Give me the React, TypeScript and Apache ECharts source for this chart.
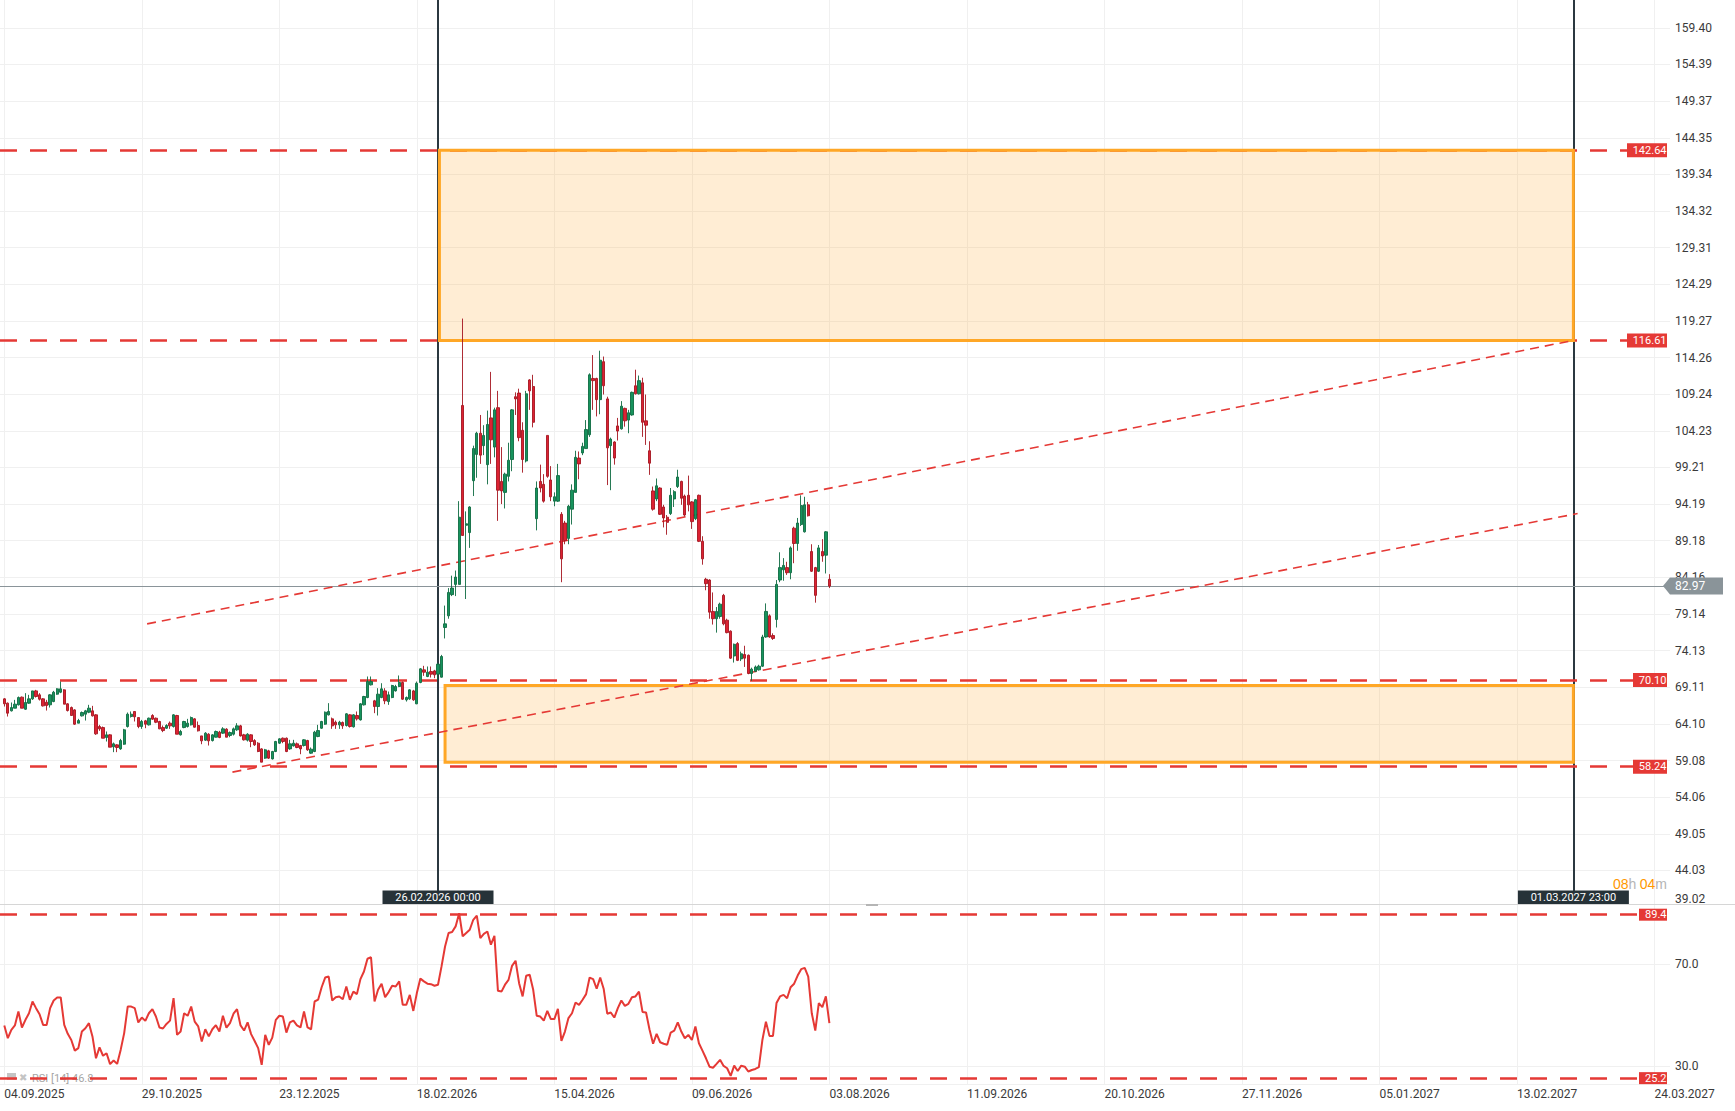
import React, { useEffect, useRef } from "react";
import * as echarts from "echarts";

// ---------- data ----------
const dateTicks = [0, 39, 78, 117, 156, 195, 234, 273, 312, 351, 390, 429, 468];
const dateLabels = [
  "04.09.2025", "29.10.2025", "23.12.2025", "18.02.2026", "15.04.2026", "09.06.2026",
  "03.08.2026", "11.09.2026", "20.10.2026", "27.11.2026", "05.01.2027", "13.02.2027", "24.03.2027",
];
const priceTicks = [
  159.40, 154.39, 149.37, 144.35, 139.34, 134.32, 129.31, 124.29, 119.27, 114.26, 109.24, 104.23,
  99.21, 94.19, 89.18, 84.16, 79.14, 74.13, 69.11, 64.10, 59.08, 54.06, 49.05, 44.03, 39.02,
];
const rsiTicks = [30, 70];

const opens = [
  67.53, 66.94, 65.89, 66.25, 66.71, 67.76, 66.11, 66.94, 67.53, 68.62,
  68.08, 67.53, 67.07, 66.71, 67.16, 68.17, 68.44, 68.76, 66.85, 66.34,
  66.02, 64.20, 65.20, 65.43, 65.70, 65.89, 65.34, 63.74, 63.60, 62.24,
  62.60, 60.96, 61.23, 60.68, 61.32, 63.74, 65.11, 65.80, 64.97, 63.74,
  64.52, 63.97, 65.25, 64.88, 64.43, 63.60, 63.51, 64.20, 63.74, 65.25,
  62.60, 63.60, 63.74, 63.97, 64.79, 63.88, 62.46, 61.87, 62.69, 61.82,
  62.28, 62.97, 62.83, 63.38, 62.51, 62.69, 63.29, 63.83, 62.60, 61.87,
  62.60, 61.82, 61.46, 60.68, 59.41, 60.41, 59.31, 60.32, 61.46, 62.14,
  62.14, 60.68, 61.09, 61.37, 61.14, 61.14, 61.82, 60.09, 60.32, 62.37,
  63.51, 64.06, 65.34, 64.79, 64.33, 63.97, 64.29, 63.88, 65.34, 63.70,
  65.25, 64.65, 66.71, 67.71, 69.45, 67.26, 66.48, 67.71, 68.62, 67.16,
  67.71, 68.62, 69.22, 69.77, 67.39, 67.53, 68.62, 66.85, 69.77, 71.50,
  70.59, 71.27, 71.36, 70.91, 70.50,
  77.3, 78.9, 81.8, 83.2, 83.2,
  107.7, 91.3, 90.3, 97.4, 101.0, 103.9, 102.2, 99.6, 106.0, 102.0,
  107.4, 97.3, 95.8, 98.0, 100.3, 108.9, 109.4, 104.3, 100.1, 111.2,
  110.3, 92.2, 97.3, 96.9, 103.6, 97.5, 94.6, 94.6, 92.8, 91.6,
  89.5, 93.5, 95.8, 100.5, 101.2, 101.8, 103.7, 111.4, 111.4, 108.5,
  113.7, 108.6, 102.2, 102.7, 104.9, 104.5, 107.3, 105.7, 106.4, 110.4,
  109.3, 110.8, 105.6, 101.5, 96.0, 94.9, 96.4, 93.8, 92.4, 92.9,
  94.9, 96.6, 97.3, 95.3, 95.4, 94.5, 92.2, 95.4, 89.1, 83.9,
  83.8, 79.5, 78.5, 78.8, 81.7, 78.3, 76.8, 73.4, 75.1, 73.0,
  73.6, 73.5, 71.0, 71.3, 71.5, 72.0, 76.0, 78.9, 76.2, 78.4,
  83.8, 85.2, 85.5, 84.8, 90.9, 88.8, 91.4, 90.4, 94.1, 87.7,
  85.5, 85.0, 87.7, 87.2, 83.9,
];
const closes = [
  66.85, 65.57, 66.34, 66.80, 67.71, 66.25, 67.03, 67.53, 68.62, 67.85,
  67.48, 66.57, 66.62, 68.08, 68.44, 68.90, 68.90, 66.80, 65.93, 65.25,
  64.06, 64.56, 65.66, 65.89, 66.25, 65.20, 62.74, 63.42, 62.14, 62.60,
  60.91, 61.37, 60.87, 61.82, 63.29, 65.43, 65.43, 65.07, 63.74, 64.43,
  64.06, 64.88, 64.75, 64.33, 63.42, 63.19, 63.88, 63.83, 65.34, 62.69,
  63.06, 64.43, 64.20, 64.97, 63.65, 63.15, 61.78, 62.83, 61.78, 62.60,
  63.06, 62.24, 63.42, 62.28, 62.92, 63.42, 63.83, 62.46, 61.92, 62.69,
  61.69, 61.23, 60.32, 58.86, 60.55, 59.41, 60.32, 61.69, 62.05, 61.69,
  60.32, 61.37, 61.46, 60.87, 60.68, 61.92, 60.55, 60.64, 62.97, 63.19,
  64.43, 65.70, 65.80, 63.83, 63.97, 64.33, 63.83, 65.48, 63.74, 65.34,
  64.79, 66.85, 67.85, 69.90, 69.90, 66.48, 68.17, 68.90, 67.26, 68.08,
  69.36, 69.22, 69.77, 67.48, 67.71, 68.76, 67.39, 69.67, 71.64, 71.18,
  71.18, 70.91, 70.82, 72.28, 73.33,
  77.8, 82.1, 82.7, 84.2, 92.4,
  89.9, 91.5, 93.8, 101.8, 103.9, 100.9, 103.6, 105.1, 103.0, 107.1,
  96.1, 96.0, 98.3, 100.2, 107.1, 108.6, 103.3, 100.3, 109.3, 109.7,
  105.4, 96.4, 96.4, 94.6, 98.0, 95.2, 95.2, 98.1, 86.7, 89.2,
  93.9, 96.1, 100.6, 99.7, 102.1, 104.4, 111.9, 111.1, 108.5, 113.9,
  110.4, 101.9, 103.1, 100.5, 104.2, 107.6, 105.6, 106.7, 109.5, 109.3,
  111.1, 105.4, 105.0, 99.8, 93.5, 96.7, 92.8, 92.3, 91.7, 95.4,
  95.9, 97.9, 95.0, 92.7, 94.1, 91.8, 94.8, 89.1, 86.7, 83.3,
  79.4, 78.5, 79.5, 80.5, 77.8, 76.6, 73.1, 75.0, 72.8, 73.7,
  73.1, 71.0, 71.6, 71.9, 72.0, 76.0, 79.5, 76.0, 75.8, 83.2,
  85.5, 85.8, 84.8, 88.2, 88.8, 91.6, 94.0, 94.1, 92.6, 85.0,
  81.7, 88.2, 87.1, 90.4, 82.97,
];
const highs = [
  67.62, 67.03, 67.03, 67.39, 67.85, 67.85, 68.31, 68.08, 68.62, 68.76,
  68.31, 67.62, 67.39, 68.17, 68.62, 68.99, 69.90, 68.85, 66.94, 66.48,
  66.11, 64.79, 65.80, 66.02, 66.71, 66.57, 65.43, 63.97, 63.74, 63.06,
  62.69, 61.55, 61.32, 62.05, 63.42, 65.66, 65.80, 65.80, 64.97, 64.65,
  64.65, 64.97, 65.43, 64.97, 64.52, 63.88, 64.06, 64.43, 65.43, 65.34,
  63.29, 64.52, 64.79, 65.11, 64.88, 64.43, 62.46, 62.97, 62.83, 62.69,
  63.19, 63.15, 63.65, 63.51, 63.06, 63.60, 64.20, 63.97, 62.74, 62.83,
  62.69, 62.01, 61.60, 60.77, 60.68, 60.55, 60.41, 61.78, 62.14, 62.24,
  62.24, 61.92, 61.92, 61.55, 61.23, 62.01, 61.92, 60.87, 63.15, 63.97,
  64.52, 65.80, 66.94, 64.97, 64.56, 64.52, 64.43, 65.57, 65.43, 65.43,
  65.80, 66.94, 67.94, 70.59, 70.59, 67.39, 68.99, 69.67, 68.99, 68.53,
  69.45, 69.45, 70.73, 69.90, 67.85, 68.85, 68.76, 69.90, 71.73, 72.05,
  71.96, 71.96, 71.50, 72.41, 73.55,
  80.3, 82.7, 84.4, 85.1, 94.6,
  119.6, 93.2, 93.9, 102.2, 104.1, 106.4, 105.0, 107.0, 112.3, 107.4,
  109.7, 102.0, 98.5, 102.6, 107.2, 109.5, 110.0, 105.4, 109.7, 111.3,
  111.9, 97.3, 99.6, 98.3, 103.6, 99.4, 95.8, 99.7, 93.1, 91.9,
  94.1, 96.9, 101.5, 101.4, 102.6, 105.7, 112.1, 114.6, 111.5, 115.2,
  114.4, 108.9, 103.3, 102.8, 106.0, 108.3, 107.4, 107.1, 109.6, 112.6,
  111.8, 111.5, 109.2, 102.8, 96.6, 97.7, 96.5, 94.1, 92.7, 96.4,
  96.1, 98.9, 97.4, 95.5, 98.1, 94.6, 94.9, 95.5, 89.8, 84.1,
  83.9, 82.1, 80.1, 80.7, 81.9, 78.5, 76.9, 75.1, 75.3, 74.0,
  74.8, 73.6, 71.8, 72.1, 72.2, 76.3, 80.6, 79.1, 76.5, 83.8,
  87.6, 86.8, 86.3, 88.4, 91.1, 92.3, 95.4, 95.2, 94.5, 88.7,
  85.6, 88.6, 89.4, 90.5, 84.6,
];
const lows = [
  66.48, 65.11, 65.80, 66.25, 66.62, 66.25, 66.02, 66.85, 67.39, 67.71,
  67.30, 66.48, 65.93, 66.34, 67.07, 68.08, 68.31, 66.80, 65.80, 65.25,
  63.97, 64.20, 65.11, 64.56, 65.57, 65.11, 62.60, 63.15, 62.14, 61.69,
  60.91, 60.23, 60.23, 60.55, 61.23, 63.60, 64.97, 64.43, 63.51, 63.42,
  63.51, 63.88, 64.65, 64.20, 63.38, 62.97, 63.42, 63.42, 63.60, 62.69,
  62.51, 63.51, 63.60, 63.88, 63.60, 63.06, 61.32, 61.78, 61.14, 61.69,
  62.24, 62.14, 62.74, 62.28, 62.28, 62.51, 63.15, 62.37, 61.82, 61.69,
  60.91, 61.09, 60.23, 58.86, 59.31, 59.31, 59.22, 60.23, 61.37, 61.46,
  60.23, 60.55, 61.00, 60.77, 59.95, 61.00, 60.41, 60.00, 60.23, 62.28,
  63.42, 63.97, 65.25, 63.42, 63.42, 63.42, 63.42, 63.74, 63.60, 63.60,
  64.56, 64.56, 66.62, 67.62, 69.36, 65.57, 65.25, 67.62, 66.80, 66.71,
  67.62, 68.53, 69.13, 67.39, 67.16, 67.39, 67.26, 66.80, 69.67, 70.68,
  70.50, 70.45, 70.36, 70.13, 70.45,
  75.8, 78.5, 81.6, 81.6, 83.2,
  89.9, 81.2, 88.2, 95.3, 97.8, 99.7, 100.9, 96.9, 99.7, 100.6,
  91.9, 94.2, 93.6, 97.3, 98.7, 106.4, 102.8, 98.5, 99.9, 107.1,
  104.7, 90.6, 95.8, 94.4, 97.8, 94.6, 93.9, 94.5, 83.5, 88.7,
  88.7, 91.4, 95.8, 97.6, 100.9, 101.8, 103.4, 107.1, 106.2, 106.5,
  109.2, 96.8, 96.1, 99.6, 102.9, 104.4, 104.8, 103.9, 106.3, 109.2,
  109.2, 103.4, 102.3, 98.2, 93.3, 94.6, 92.7, 91.0, 90.0, 92.7,
  93.8, 96.4, 94.1, 92.5, 93.2, 90.8, 92.0, 89.0, 85.9, 82.4,
  78.5, 77.7, 76.6, 78.5, 77.6, 76.5, 73.0, 72.5, 72.7, 72.7,
  71.9, 70.9, 70.0, 71.2, 71.4, 71.9, 75.9, 75.9, 75.6, 77.3,
  83.5, 83.7, 84.5, 83.9, 86.1, 87.8, 91.2, 90.3, 92.5, 84.9,
  80.7, 84.9, 86.3, 84.7, 82.7,
];
const rsiValues = [
  45.9, 40.9, 44.2, 45.9, 51.4, 45.1, 48.1, 50.7, 55.3, 52.7,
  50.3, 46.1, 46.1, 52.7, 55.7, 56.9, 56.9, 46.1, 42.6, 40.2,
  36.0, 37.0, 43.5, 44.8, 46.8, 41.6, 33.0, 37.3, 34.0, 35.0,
  30.7, 32.1, 30.8, 36.3, 42.9, 53.3, 53.3, 52.7, 47.1, 49.0,
  47.7, 50.7, 52.3, 49.4, 45.1, 44.7, 46.5, 47.8, 56.6, 42.2,
  43.5, 50.7, 49.7, 53.3, 47.4, 45.5, 39.6, 44.4, 41.6, 44.4,
  46.0, 43.5, 49.7, 45.0, 46.8, 50.5, 52.3, 45.9, 43.9, 47.1,
  42.5, 39.8, 37.0, 30.4, 42.2, 38.3, 41.1, 48.1, 49.7, 49.4,
  43.1, 47.1, 47.8, 45.9, 45.1, 51.4, 45.1, 44.4, 55.3, 56.0,
  60.9, 64.7, 65.1, 55.7, 57.0, 57.3, 56.2, 61.2, 56.0, 59.2,
  58.2, 64.1, 67.1, 72.1, 72.7, 55.3, 59.9, 62.3, 57.0, 59.0,
  61.5, 61.2, 63.2, 54.0, 54.0, 57.9, 51.6, 58.6, 64.3, 63.2,
  62.3, 62.1, 61.5, 61.9, 69.1, 76.9, 82.2, 82.6, 84.8, 90.0,
  80.9, 82.2, 83.5, 87.4, 89.0, 80.2, 81.9, 82.8, 77.6, 81.1,
  59.5, 59.2, 61.9, 63.8, 69.3, 71.3, 62.5, 57.3, 65.4, 65.8,
  59.9, 49.7, 49.4, 47.8, 51.6, 48.4, 48.4, 52.4, 39.8, 43.5,
  48.8, 50.7, 54.9, 54.0, 56.0, 58.2, 64.7, 64.1, 60.3, 64.7,
  60.2, 50.5, 51.0, 49.0, 52.7, 55.7, 53.6, 54.4, 57.0, 57.3,
  59.2, 51.2, 51.0, 44.2, 38.7, 42.6, 39.3, 38.7, 38.3, 43.1,
  43.9, 47.1, 43.5, 40.9, 42.2, 40.2, 45.5, 38.9, 36.0, 33.0,
  29.7, 29.3, 30.8, 32.4, 30.0, 29.1, 26.1, 30.1, 28.0, 30.1,
  29.7, 27.8, 28.4, 28.8, 29.5, 40.2, 47.4, 41.8, 41.8, 54.7,
  57.3, 57.9, 56.6, 60.9, 62.3, 65.5, 68.0, 68.5, 65.1, 50.7,
  43.9, 54.7, 53.1, 57.3, 46.8,
];

const levelLines = [142.64, 116.61, 70.10, 58.24];
const rsiLevels = [89.4, 25.2];
const lastPrice = 82.97;
const markerBars = [123, 445];
const markerLabels = ["26.02.2026 00:00", "01.03.2027 23:00"];
const upperTrend = [[40.5, 77.8], [445, 116.61]];
const lowerTrend = [[64.7, 57.5], [446.2, 92.9]];
const upperZone = [[123.4, 142.64], [445, 116.61]];
const lowerZone = [[125, 69.35], [445, 58.84]];
const rsiName = "RSI [14] 46.8";
const countdown = ["08", "04"];

// ---------- layout / style ----------
const W = 1735;
const H = 1111;
const GRID_W = 1670;
const MAIN_H = 904;
const RSI_TOP = 904;
const RSI_H = 180;
const X_MIN = -1.22;
const X_MAX = 472.4;
const Y_MIN = 39.44;
const Y_MAX = 163.22;
const R_MIN = 22.9;
const R_MAX = 93.6;

const RED = "#e53935";
const GRIDC = "#f0f0f0";
const LABELC = "#3a3a3a";
const FONT = "Roboto";

function buildOption() {
  const mainTicks = priceTicks.filter((v) => v >= Y_MIN && v <= Y_MAX);
  const xAxisBase = (gridIndex: number, showLabel: boolean) => ({
    type: "value",
    gridIndex,
    min: X_MIN,
    max: X_MAX,
    axisLine: { show: gridIndex === 1, lineStyle: { color: GRIDC } },
    axisTick: { show: false, customValues: dateTicks },
    splitLine: { show: true, lineStyle: { color: GRIDC, width: 1 } },
    axisLabel: {
      show: showLabel,
      customValues: dateTicks,
      align: "left",
      margin: 4,
      color: LABELC,
      fontSize: 12,
      fontFamily: FONT,
      formatter: (v: number) => {
        const k = dateTicks.indexOf(Math.round(v));
        return k >= 0 ? dateLabels[k] : "";
      },
    },
  });
  const candleData = opens.map((o, i) => [i, o, closes[i], lows[i], highs[i]]);
  return {
    animation: false,
    backgroundColor: "#ffffff",
    textStyle: { fontFamily: FONT },
    grid: [
      { left: 0, top: 0, width: GRID_W, height: MAIN_H },
      { left: 0, top: RSI_TOP, width: GRID_W, height: RSI_H },
    ],
    xAxis: [xAxisBase(0, false), xAxisBase(1, true)],
    yAxis: [
      {
        type: "value",
        gridIndex: 0,
        position: "right",
        min: Y_MIN,
        max: Y_MAX,
        axisLine: { show: false },
        axisTick: { show: false, customValues: mainTicks },
        splitLine: { show: true, lineStyle: { color: GRIDC, width: 1 } },
        axisLabel: {
          customValues: mainTicks,
          margin: 5,
          color: LABELC,
          fontSize: 12,
          fontFamily: FONT,
          formatter: (v: number) => v.toFixed(2),
        },
      },
      {
        type: "value",
        gridIndex: 1,
        position: "right",
        min: R_MIN,
        max: R_MAX,
        axisLine: { show: false },
        axisTick: { show: false, customValues: rsiTicks },
        splitLine: { show: true, lineStyle: { color: GRIDC, width: 1 } },
        axisLabel: {
          customValues: rsiTicks,
          margin: 5,
          color: LABELC,
          fontSize: 12,
          fontFamily: FONT,
          formatter: (v: number) => v.toFixed(1),
        },
      },
    ],
    series: [
      {
        name: "lines",
        type: "line",
        xAxisIndex: 0,
        yAxisIndex: 0,
        data: [],
        z: 1,
        silent: true,
        markLine: {
          z: 1,
          silent: true,
          symbol: ["none", "none"],
          label: { show: false },
          emphasis: { disabled: true },
          data: [
            ...markerBars.map((b) => ({
              xAxis: b,
              lineStyle: { color: "#2b3840", width: 2, type: "solid" },
            })),
            {
              yAxis: lastPrice,
              lineStyle: { color: "#8a9499", width: 1, type: "solid" },
            },
            ...levelLines.map((v) => ({
              yAxis: v,
              lineStyle: { color: RED, width: 2.6, type: [17, 13] },
            })),
          ],
        },
      },
      {
        name: "zones",
        type: "line",
        xAxisIndex: 0,
        yAxisIndex: 0,
        data: [],
        z: 3,
        silent: true,
        markArea: {
          z: 3,
          silent: true,
          emphasis: { disabled: true },
          itemStyle: {
            color: "rgba(255,167,38,0.2)",
            borderColor: "#ffa726",
            borderWidth: 3,
          },
          data: [upperZone, lowerZone].map((z) => [
            { coord: z[0] },
            { coord: z[1] },
          ]),
        },
      },
      ...[upperTrend, lowerTrend].map((t, k) => ({
        name: "trend" + k,
        type: "line",
        xAxisIndex: 0,
        yAxisIndex: 0,
        data: t,
        z: 4,
        silent: true,
        showSymbol: false,
        symbol: "none",
        lineStyle: { color: RED, width: 1.6, type: [9, 6] },
      })),
      {
        name: "price",
        type: "candlestick",
        xAxisIndex: 0,
        yAxisIndex: 0,
        data: candleData,
        z: 5,
        silent: true,
        barWidth: 2.8,
        itemStyle: {
          color: "#17935d",
          color0: "#dc2233",
          borderColor: "#0f6b42",
          borderColor0: "#a5151f",
          borderWidth: 0.9,
        },
      },
      {
        name: "rsi",
        type: "line",
        xAxisIndex: 1,
        yAxisIndex: 1,
        data: rsiValues.map((v, i) => [i, v]),
        z: 4,
        silent: true,
        showSymbol: false,
        symbol: "none",
        lineStyle: { color: RED, width: 2 },
        markLine: {
          z: 5,
          silent: true,
          symbol: ["none", "none"],
          label: { show: false },
          emphasis: { disabled: true },
          data: rsiLevels.map((v) => ({
            yAxis: v,
            lineStyle: { color: RED, width: 2.6, type: [17, 13] },
          })),
        },
      },
    ],
  };
}

function textStyle(text: string, x: number, y: number, fill: string, size: number, align: string) {
  return {
    text,
    x,
    y,
    fill,
    font: `${size}px ${FONT}`,
    align,
    verticalAlign: "middle",
    textAlign: align,
    textVerticalAlign: "middle",
  };
}

function buildGraphics(chart: any) {
  const els: any[] = [];
  const tagRight = GRID_W - 3;
  const mainBottom = MAIN_H;

  // panel separator + handle
  els.push({
    type: "line",
    shape: { x1: 0, y1: mainBottom + 0.5, x2: W, y2: mainBottom + 0.5 },
    style: { stroke: "#d6d6d6", lineWidth: 1 },
    z: 50,
    silent: true,
  });
  els.push({
    type: "rect",
    shape: { x: 866, y: mainBottom, width: 12, height: 2 },
    style: { fill: "#b5b5b5" },
    z: 51,
    silent: true,
  });

  // level tags
  const tag = (v: number, yAxisIndex: number, digits: number, h: number) => {
    const y = chart.convertToPixel({ yAxisIndex }, v);
    const label = v.toFixed(digits);
    const w = label.length * 6 + 4;
    els.push({
      type: "rect",
      shape: { x: tagRight - w, y: y - h / 2, width: w, height: h },
      style: { fill: RED },
      z: 100,
      silent: true,
    });
    els.push({
      type: "text",
      style: textStyle(label, tagRight - 0.5, y, "#ffffff", 11, "right"),
      z: 101,
      silent: true,
    });
  };
  levelLines.forEach((v) => tag(v, 0, 2, 14));
  rsiLevels.forEach((v) => tag(v, 1, 1, 12));

  // last price tag
  const ly = chart.convertToPixel({ yAxisIndex: 0 }, lastPrice);
  els.push({
    type: "polygon",
    shape: {
      points: [
        [GRID_W - 7, ly],
        [GRID_W, ly - 8.5],
        [GRID_W + 53, ly - 8.5],
        [GRID_W + 53, ly + 8.5],
        [GRID_W, ly + 8.5],
      ],
    },
    style: { fill: "#8a9499" },
    z: 100,
    silent: true,
  });
  els.push({
    type: "text",
    style: textStyle(lastPrice.toFixed(2), GRID_W + 5, ly, "#ffffff", 12, "left"),
    z: 101,
    silent: true,
  });

  // bottom tick label that falls on the panel edge
  els.push({
    type: "text",
    style: textStyle(priceTicks[priceTicks.length - 1].toFixed(2), GRID_W + 5, mainBottom - 5, LABELC, 12, "left"),
    z: 60,
    silent: true,
  });

  // vertical marker labels
  markerBars.forEach((b, k) => {
    const x = chart.convertToPixel({ xAxisIndex: 0 }, b);
    const w = 111;
    els.push({
      type: "rect",
      shape: { x: x - w / 2, y: mainBottom - 13.5, width: w, height: 13.5 },
      style: { fill: "#263238" },
      z: 100,
      silent: true,
    });
    els.push({
      type: "text",
      style: textStyle(markerLabels[k], x, mainBottom - 6.5, "#ffffff", 11, "center"),
      z: 101,
      silent: true,
    });
  });

  // countdown
  els.push({
    type: "text",
    style: {
      text: `{o|${countdown[0]}}{g|h} {o|${countdown[1]}}{g|m}`,
      x: tagRight,
      y: mainBottom - 20,
      align: "right",
      verticalAlign: "middle",
      textAlign: "right",
      textVerticalAlign: "middle",
      font: `14px ${FONT}`,
      fill: "#b0b0b0",
      rich: {
        o: { fill: "#ff9800", color: "#ff9800", font: `14px ${FONT}`, fontSize: 14 },
        g: { fill: "#b5b5b5", color: "#b5b5b5", font: `14px ${FONT}`, fontSize: 14 },
      },
    },
    z: 100,
    silent: true,
  });

  // RSI legend (under the dashed level line)
  els.push({
    type: "rect",
    shape: { x: 7, y: 1073, width: 9, height: 7 },
    style: { fill: "#c4c4c4" },
    z: 0,
    silent: true,
  });
  els.push({
    type: "text",
    style: textStyle("✖", 19, 1077, "#c4c4c4", 10, "left"),
    z: 0,
    silent: true,
  });
  els.push({
    type: "text",
    style: textStyle(rsiName, 32, 1078, "#a6a6a6", 11, "left"),
    z: 0,
    silent: true,
  });
  return els;
}

export default function App() {
  const ref = useRef<HTMLDivElement>(null);
  useEffect(() => {
    if (!ref.current) return;
    const chart = echarts.init(ref.current, undefined, { renderer: "svg" });
    chart.setOption(buildOption() as any);
    chart.setOption({ graphic: buildGraphics(chart) } as any);
    return () => chart.dispose();
  }, []);
  return (
    <div
      ref={ref}
      style={{ position: "absolute", left: 0, top: 0, width: W, height: H, background: "#ffffff" }}
    />
  );
}
